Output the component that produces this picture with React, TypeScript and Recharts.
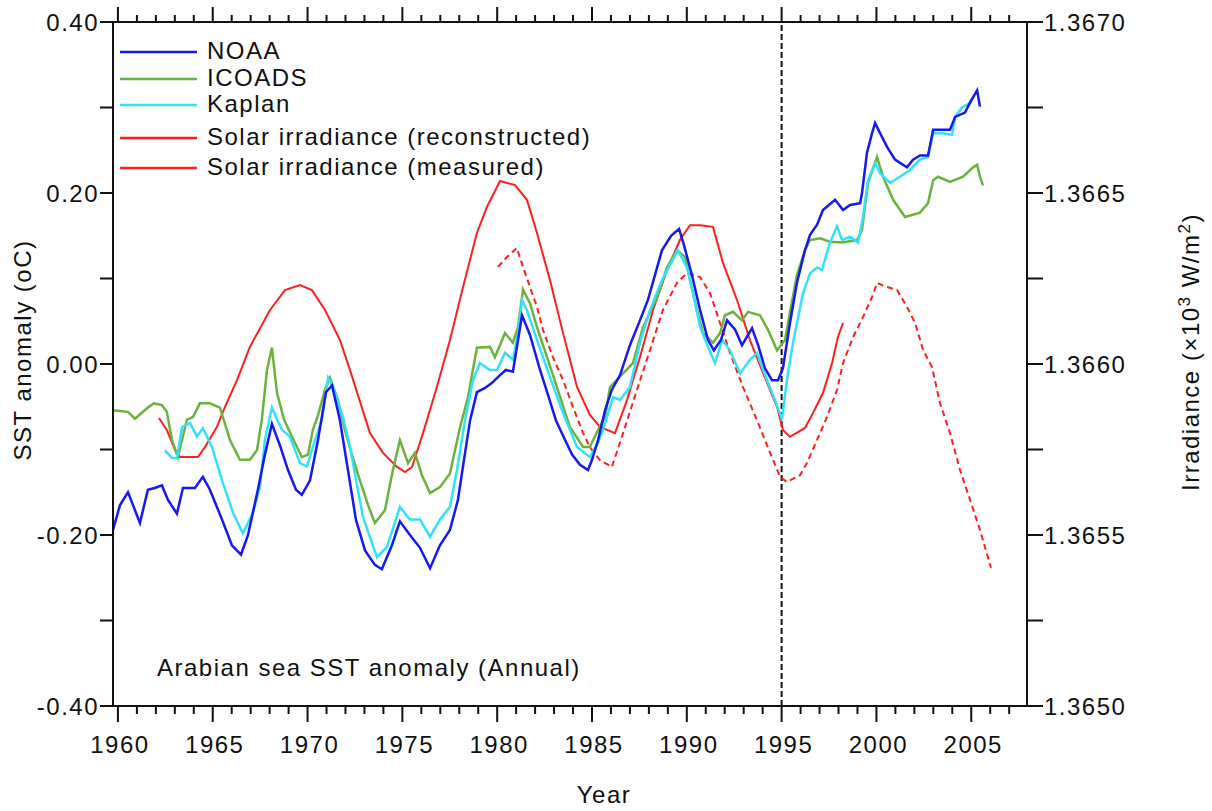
import { LineChart, Line, XAxis, YAxis, ReferenceLine, Legend } from 'recharts';

// [year, SST anomaly °C]
const noaa: [number, number][] = [
  [1959.74, -0.194], [1960.11, -0.165], [1960.53, -0.15], [1960.9, -0.171], [1961.16, -0.186], [1961.58, -0.147],
  [1961.95, -0.145], [1962.32, -0.142], [1962.64, -0.159], [1963.11, -0.175], [1963.43, -0.145], [1964.06, -0.145],
  [1964.48, -0.132], [1964.85, -0.147], [1965.49, -0.182], [1966.01, -0.212], [1966.49, -0.223], [1966.86, -0.2],
  [1967.38, -0.147], [1967.75, -0.106], [1968.12, -0.07], [1968.54, -0.095], [1968.97, -0.124], [1969.39, -0.147],
  [1969.7, -0.153], [1970.13, -0.136], [1970.55, -0.089], [1970.97, -0.033], [1971.29, -0.025], [1971.71, -0.066],
  [1972.13, -0.124], [1972.55, -0.182], [1973.03, -0.218], [1973.55, -0.235], [1973.92, -0.24], [1974.45, -0.212],
  [1974.87, -0.184], [1975.4, -0.2], [1975.93, -0.215], [1976.46, -0.239], [1976.98, -0.212], [1977.51, -0.194],
  [1977.93, -0.159], [1978.25, -0.112], [1978.57, -0.066], [1978.93, -0.033], [1979.36, -0.028], [1979.73, -0.022],
  [1980.15, -0.013], [1980.46, -0.007], [1980.83, -0.009], [1981.1, 0.028], [1981.31, 0.057], [1981.73, 0.034],
  [1982.26, -0.007], [1982.68, -0.036], [1983.1, -0.066], [1983.58, -0.089], [1983.95, -0.106], [1984.37, -0.118],
  [1984.79, -0.124], [1985.0, -0.112], [1985.32, -0.089], [1985.69, -0.054], [1986.05, -0.03], [1986.48, -0.013],
  [1987.0, 0.022], [1987.53, 0.051], [1987.95, 0.075], [1988.32, 0.104], [1988.69, 0.133], [1989.17, 0.15],
  [1989.59, 0.158], [1989.85, 0.139], [1990.27, 0.104], [1990.7, 0.063], [1991.12, 0.028], [1991.43, 0.016],
  [1991.8, 0.028], [1992.12, 0.051], [1992.55, 0.04], [1992.91, 0.022], [1993.44, 0.042], [1993.76, 0.022],
  [1994.12, -0.005], [1994.49, -0.019], [1994.81, -0.019], [1995.07, -0.005], [1995.44, 0.048], [1995.81, 0.095],
  [1996.23, 0.133], [1996.5, 0.151], [1996.87, 0.163], [1997.18, 0.18], [1997.82, 0.192], [1998.24, 0.18],
  [1998.61, 0.186], [1999.14, 0.188], [1999.24, 0.2], [1999.5, 0.247], [1999.77, 0.27], [1999.93, 0.282],
  [2000.19, 0.27], [2000.56, 0.254], [2000.98, 0.239], [2001.61, 0.23], [2001.93, 0.239], [2002.3, 0.244],
  [2002.72, 0.244], [2002.99, 0.274], [2003.51, 0.274], [2003.88, 0.274], [2004.15, 0.289], [2004.67, 0.294],
  [2004.94, 0.306], [2005.31, 0.32], [2005.46, 0.301],
];

const icoads: [number, number][] = [
  [1959.74, -0.054], [1960.53, -0.056], [1960.9, -0.064], [1961.58, -0.051], [1961.9, -0.046], [1962.32, -0.048],
  [1962.58, -0.056], [1962.85, -0.089], [1963.16, -0.109], [1963.64, -0.065], [1963.96, -0.062], [1964.32, -0.046],
  [1964.85, -0.046], [1965.38, -0.051], [1965.91, -0.089], [1966.43, -0.112], [1966.96, -0.112], [1967.33, -0.101],
  [1967.59, -0.065], [1967.86, -0.007], [1968.12, 0.019], [1968.39, -0.034], [1968.76, -0.065], [1969.18, -0.085],
  [1969.7, -0.109], [1970.02, -0.106], [1970.28, -0.077], [1970.55, -0.06], [1970.92, -0.03], [1971.18, -0.016],
  [1971.6, -0.042], [1971.97, -0.077], [1972.34, -0.106], [1972.76, -0.136], [1973.19, -0.165], [1973.55, -0.186],
  [1974.08, -0.171], [1974.5, -0.124], [1974.87, -0.089], [1975.3, -0.116], [1975.66, -0.104], [1976.03, -0.13],
  [1976.46, -0.151], [1976.98, -0.144], [1977.51, -0.128], [1978.04, -0.074], [1978.46, -0.039], [1978.93, 0.019],
  [1979.62, 0.02], [1979.88, 0.008], [1980.41, 0.036], [1980.83, 0.025], [1981.1, 0.043], [1981.36, 0.087],
  [1981.73, 0.071], [1982.1, 0.043], [1982.63, 0.008], [1983.15, -0.027], [1983.84, -0.074], [1984.53, -0.097],
  [1984.89, -0.097], [1985.32, -0.077], [1985.69, -0.062], [1985.95, -0.027], [1986.64, -0.011], [1987.16, 0.001],
  [1987.69, 0.043], [1988.43, 0.078], [1988.96, 0.113], [1989.48, 0.133], [1989.91, 0.125], [1990.17, 0.098],
  [1990.54, 0.063], [1990.86, 0.036], [1991.38, 0.025], [1991.75, 0.036], [1992.01, 0.057], [1992.44, 0.061],
  [1992.91, 0.051], [1993.23, 0.061], [1993.86, 0.057], [1994.28, 0.04], [1994.76, 0.016], [1995.18, 0.028],
  [1995.44, 0.061], [1995.81, 0.104], [1996.23, 0.133], [1996.5, 0.145], [1997.03, 0.147], [1997.55, 0.143],
  [1998.19, 0.142], [1998.98, 0.145], [1999.24, 0.157], [1999.56, 0.212], [2000.03, 0.242], [2000.35, 0.219],
  [2000.88, 0.192], [2001.51, 0.172], [2002.3, 0.177], [2002.72, 0.188], [2002.99, 0.215], [2003.25, 0.219],
  [2003.88, 0.213], [2004.57, 0.219], [2005.1, 0.23], [2005.31, 0.233], [2005.46, 0.219], [2005.62, 0.209],
];

const kaplan: [number, number][] = [
  [1962.48, -0.101], [1962.85, -0.11], [1963.11, -0.11], [1963.38, -0.074], [1963.8, -0.069], [1964.17, -0.085],
  [1964.48, -0.075], [1964.96, -0.097], [1965.49, -0.136], [1966.07, -0.174], [1966.59, -0.198], [1967.12, -0.174],
  [1967.49, -0.144], [1967.75, -0.089], [1968.12, -0.051], [1968.39, -0.065], [1968.65, -0.077], [1969.07, -0.085],
  [1969.6, -0.116], [1969.97, -0.12], [1970.28, -0.097], [1970.76, -0.065], [1971.08, -0.016], [1971.34, -0.027],
  [1971.87, -0.062], [1972.24, -0.097], [1972.92, -0.179], [1973.66, -0.226], [1974.19, -0.214], [1974.87, -0.167],
  [1975.4, -0.182], [1975.93, -0.182], [1976.46, -0.202], [1976.98, -0.182], [1977.51, -0.167], [1977.88, -0.124],
  [1978.3, -0.066], [1978.72, -0.019], [1979.09, 0.001], [1979.62, -0.007], [1979.99, -0.007], [1980.41, 0.013],
  [1980.83, 0.005], [1981.1, 0.036], [1981.31, 0.075], [1981.57, 0.063], [1982.1, 0.028], [1982.78, -0.015],
  [1983.47, -0.057], [1984.21, -0.097], [1984.89, -0.109], [1985.32, -0.092], [1985.58, -0.077], [1986.11, -0.039],
  [1986.48, -0.042], [1987.0, -0.027], [1987.53, 0.025], [1988.06, 0.063], [1988.69, 0.098], [1989.53, 0.133],
  [1990.01, 0.113], [1990.33, 0.083], [1990.7, 0.043], [1991.12, 0.02], [1991.49, 0.001], [1991.86, 0.028],
  [1992.28, 0.016], [1992.81, -0.011], [1993.33, 0.005], [1993.7, 0.013], [1994.23, -0.019], [1994.65, -0.042],
  [1995.02, -0.065], [1995.28, -0.019], [1995.6, 0.025], [1996.13, 0.083], [1996.5, 0.106], [1996.87, 0.113],
  [1997.13, 0.11], [1997.55, 0.142], [1997.92, 0.161], [1998.19, 0.145], [1998.61, 0.149], [1999.03, 0.142],
  [1999.29, 0.172], [1999.56, 0.215], [1999.93, 0.235], [2000.19, 0.223], [2000.72, 0.212], [2001.24, 0.219],
  [2001.77, 0.227], [2002.3, 0.239], [2002.72, 0.242], [2002.99, 0.27], [2003.51, 0.27], [2003.99, 0.268],
  [2004.15, 0.289], [2004.51, 0.3], [2004.94, 0.305], [2005.1, 0.312],
];

// [year, irradiance ×10³ W/m²]
const solarReconstructed: [number, number][] = [
  [1962.16, 1.365842], [1962.58, 1.365807], [1963.01, 1.365749], [1963.27, 1.365728], [1964.22, 1.365728],
  [1964.59, 1.365757], [1965.22, 1.365816], [1965.64, 1.365874], [1966.28, 1.365953], [1966.96, 1.36605],
  [1968.02, 1.366158], [1968.81, 1.366216], [1969.6, 1.366231], [1970.23, 1.366216], [1970.92, 1.366158],
  [1971.71, 1.36607], [1972.24, 1.365982], [1973.29, 1.365798], [1973.98, 1.36574], [1974.72, 1.365699],
  [1975.14, 1.365684], [1975.51, 1.365699], [1976.09, 1.365798], [1976.82, 1.365933], [1977.51, 1.36607],
  [1978.2, 1.366225], [1978.93, 1.366383], [1979.46, 1.366459], [1980.15, 1.366535], [1980.94, 1.366523],
  [1981.57, 1.36648], [1982.1, 1.366383], [1982.78, 1.366246], [1983.47, 1.366091], [1984.21, 1.365933],
  [1984.89, 1.365851], [1985.42, 1.365816], [1986.21, 1.365798], [1986.85, 1.365895], [1987.53, 1.36602],
  [1988.22, 1.366158], [1988.96, 1.366275], [1989.64, 1.366363], [1990.17, 1.366406], [1990.7, 1.366406],
  [1991.38, 1.366401], [1991.91, 1.366295], [1992.65, 1.366187], [1993.33, 1.36607], [1994.02, 1.365974],
  [1994.76, 1.365874], [1995.07, 1.365807], [1995.44, 1.365787], [1996.23, 1.365813], [1996.66, 1.365857],
  [1997.18, 1.365915], [1997.66, 1.366003], [1997.97, 1.366079], [1998.24, 1.36612],
];

const solarMeasured: [number, number][] = [
  [1980.04, 1.366284], [1980.52, 1.366313], [1981.04, 1.366339], [1981.36, 1.366284], [1981.73, 1.366225],
  [1982.1, 1.366167], [1982.42, 1.366099], [1982.94, 1.36602], [1983.47, 1.365953], [1984.0, 1.365874],
  [1984.53, 1.365798], [1984.89, 1.365757], [1985.42, 1.365719], [1986.05, 1.365699], [1986.64, 1.365798],
  [1987.37, 1.365924], [1988.06, 1.366041], [1988.74, 1.366158], [1989.48, 1.366237], [1990.01, 1.366266],
  [1990.7, 1.366254], [1991.22, 1.366208], [1991.75, 1.36612], [1992.28, 1.366032], [1992.96, 1.365933],
  [1993.7, 1.365836], [1994.39, 1.36574], [1994.92, 1.36567], [1995.28, 1.365655], [1995.97, 1.365675],
  [1996.34, 1.365711], [1996.87, 1.365778], [1997.39, 1.365845], [1997.92, 1.365924], [1998.24, 1.366003],
  [1998.77, 1.366079], [1999.29, 1.366137], [1999.77, 1.366196], [2000.03, 1.366237], [2000.56, 1.366225],
  [2001.09, 1.366216], [2001.61, 1.366167], [2002.04, 1.36612], [2002.46, 1.366041], [2002.93, 1.365991],
  [2003.35, 1.365886], [2003.88, 1.365798], [2004.41, 1.36569], [2004.94, 1.365602], [2005.46, 1.365515],
  [2006.04, 1.365404],
];

const yearTicks = Array.from({ length: 48 }, (_, i) => 1960 + i);
const sstTicks = [-0.4, -0.3, -0.2, -0.1, 0, 0.1, 0.2, 0.3, 0.4];
const irrTicks = [1.365, 1.36525, 1.3655, 1.36575, 1.366, 1.36625, 1.3665, 1.36675, 1.367];

const BLUE = '#1818f2';
const GREEN = '#6cb23f';
const CYAN = '#33e2fa';
const RED = '#ff1e1e';
const INK = '#111';

const FONT = "'Liberation Sans', Arial, sans-serif";
const txt = { fontFamily: FONT, fontSize: 24, letterSpacing: 1.5, fill: INK } as const;

const toRows = (pts: [number, number][]) => pts.map(([year, v]) => ({ year, v }));

const legendRows = [
  { name: 'NOAA', color: BLUE, y: 52, dash: undefined },
  { name: 'ICOADS', color: GREEN, y: 79, dash: undefined },
  { name: 'Kaplan', color: CYAN, y: 105, dash: undefined },
  { name: 'Solar irradiance (reconstructed)', color: RED, y: 138, dash: undefined },
  { name: 'Solar irradiance (measured)', color: RED, y: 168, dash: undefined },
];

function BottomTick(props: any) {
  const { x, y, payload } = props;
  const major = Math.round(payload.value) % 5 === 0;
  return (
    <g>
      <line x1={x} x2={x} y1={y} y2={y + (major ? 16 : 8)} stroke={INK} strokeWidth={2} />
      {major && (
        <text x={x + 2} y={y + 47} textAnchor="middle" style={txt}>{payload.value}</text>
      )}
    </g>
  );
}

function TopTick(props: any) {
  const { x, y, payload } = props;
  const major = Math.round(payload.value) % 5 === 0;
  return <line x1={x} x2={x} y1={y} y2={y - (major ? 15 : 7)} stroke={INK} strokeWidth={2} />;
}

function LeftTick(props: any) {
  const { x, y, payload } = props;
  const major = Math.round(payload.value * 10) % 2 === 0;
  return (
    <g>
      <line x1={x} x2={x - 13} y1={y} y2={y} stroke={INK} strokeWidth={2} />
      {major && (
        <text x={x - 14} y={y + 9} textAnchor="end" style={txt}>{payload.value.toFixed(2)}</text>
      )}
    </g>
  );
}

function RightTick(props: any) {
  const { x, y, payload } = props;
  const major = Math.round(payload.value * 10000) % 5 === 0;
  return (
    <g>
      <line x1={x} x2={x + 16} y1={y} y2={y} stroke={INK} strokeWidth={2} />
      {major && (
        <text x={x + 17} y={y + 9} textAnchor="start" style={txt}>{payload.value.toFixed(4)}</text>
      )}
    </g>
  );
}

function LegendBox() {
  return (
    <svg width={620} height={190} style={{ display: 'block' }}>
      {legendRows.map((r) => (
        <g key={r.name}>
          <line x1={120} x2={197} y1={r.y} y2={r.y} stroke={r.color} strokeWidth={2.5} />
          <text x={207} y={r.y + 7} style={txt}>{r.name}</text>
        </g>
      ))}
    </svg>
  );
}

export default function App() {
  const axisLine = { stroke: INK, strokeWidth: 2 };
  return (
    <div style={{ position: 'absolute', left: 0, top: 0, width: 1212, height: 811, background: '#fff' }}>
      <LineChart width={1212} height={811} margin={{ top: 12, right: 125, bottom: 75, left: 53 }}>
        <XAxis
          xAxisId="bottom" dataKey="year" type="number" orientation="bottom"
          domain={[1959.74, 2007.94]} allowDataOverflow ticks={yearTicks} interval={0}
          height={30} tickSize={0} tickMargin={0} axisLine={axisLine} tickLine={false} tick={BottomTick}
        />
        <XAxis
          xAxisId="top" dataKey="year" type="number" orientation="top"
          domain={[1959.74, 2007.94]} allowDataOverflow ticks={yearTicks} interval={0}
          height={10} tickSize={0} tickMargin={0} axisLine={axisLine} tickLine={false} tick={TopTick}
        />
        <YAxis
          yAxisId="left" type="number" domain={[-0.4, 0.4]} allowDataOverflow ticks={sstTicks} interval={0}
          width={60} tickSize={0} tickMargin={0} axisLine={axisLine} tickLine={false} tick={LeftTick}
        />
        <YAxis
          yAxisId="right" orientation="right" type="number" domain={[1.365, 1.367]} allowDataOverflow
          ticks={irrTicks} interval={0}
          width={60} tickSize={0} tickMargin={0} axisLine={axisLine} tickLine={false} tick={RightTick}
        />
        <Legend
          layout="vertical" align="center" verticalAlign="middle"
          wrapperStyle={{ left: 0, top: 0, width: 620, height: 190 }}
          content={() => <LegendBox />}
        />
        <ReferenceLine
          xAxisId="bottom" yAxisId="left" x={1995}
          stroke={INK} strokeWidth={2} strokeDasharray="6 3"
        />
        <Line
          xAxisId="bottom" yAxisId="right" data={toRows(solarReconstructed)} dataKey="v" name="Solar irradiance (reconstructed)"
          stroke={RED} strokeWidth={2} dot={false} isAnimationActive={false}
        />
        <Line
          xAxisId="bottom" yAxisId="right" data={toRows(solarMeasured)} dataKey="v" name="Solar irradiance (measured)"
          stroke={RED} strokeWidth={2} strokeDasharray="6 4" dot={false} isAnimationActive={false}
        />
        <Line
          xAxisId="bottom" yAxisId="left" data={toRows(icoads)} dataKey="v" name="ICOADS"
          stroke={GREEN} strokeWidth={2.5} dot={false} isAnimationActive={false}
        />
        <Line
          xAxisId="bottom" yAxisId="left" data={toRows(kaplan)} dataKey="v" name="Kaplan"
          stroke={CYAN} strokeWidth={2.5} dot={false} isAnimationActive={false}
        />
        <Line
          xAxisId="bottom" yAxisId="left" data={toRows(noaa)} dataKey="v" name="NOAA"
          stroke={BLUE} strokeWidth={2.5} dot={false} isAnimationActive={false}
        />
      </LineChart>
      <svg width={1212} height={811} style={{ position: 'absolute', left: 0, top: 0, pointerEvents: 'none' }}>
        <text x={157} y={676} style={txt}>Arabian sea SST anomaly (Annual)</text>
        <text x={604} y={803} textAnchor="middle" style={txt}>Year</text>
        <text
          x={0} y={0} textAnchor="middle" style={txt}
          transform="translate(31 350) rotate(-90)"
        >
          SST anomaly (oC)
        </text>
        <text
          x={0} y={0} textAnchor="middle" style={txt}
          transform="translate(1199 352) rotate(-90)"
        >
          Irradiance (×10<tspan dy={-9} fontSize={17}>3</tspan>
          <tspan dy={9}> W/m</tspan>
          <tspan dy={-9} fontSize={17}>2</tspan>
          <tspan dy={9}>)</tspan>
        </text>
      </svg>
    </div>
  );
}
